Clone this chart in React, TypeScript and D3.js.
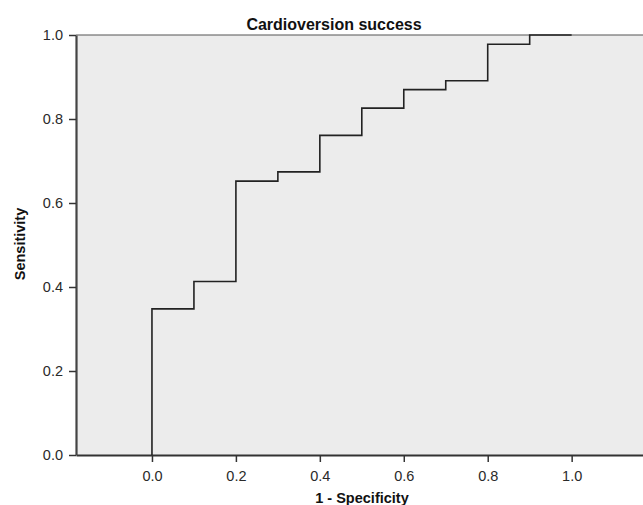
import React, { useEffect, useRef } from "react";
import * as d3 from "d3";

// ROC curve corners (1 - specificity, sensitivity)
const fpr = [0, 0, 0.1, 0.2, 0.3, 0.4, 0.5, 0.6, 0.7, 0.8, 0.9, 1.0];
const tpr = [0, 0.348, 0.413, 0.652, 0.674, 0.761, 0.826, 0.87, 0.891, 0.978, 1.0, 1.0];
const xTicks = [0, 0.2, 0.4, 0.6, 0.8, 1.0];
const yTicks = [0, 0.2, 0.4, 0.6, 0.8, 1.0];

const title = "Cardioversion success";
const xLabel = "1 - Specificity";
const yLabel = "Sensitivity";

const App = () => {
  const svgRef = useRef<SVGSVGElement>(null);

  const config = {
    width: 643,
    height: 505,
    margin: { top: 35, right: 0, bottom: 50, left: 76 },
  };

  useEffect(() => {
    const svg = d3.select(svgRef.current);
    svg.selectAll("*").remove();

    const { width, height, margin } = config;
    const font = "'Liberation Sans', Arial, sans-serif";

    const x = d3.scaleLinear().domain([-0.181, 1.17]).range([margin.left, width]);
    const y = d3.scaleLinear().domain([0, 1]).range([height - margin.bottom, margin.top]);

    // plot background
    svg
      .append("rect")
      .attr("x", margin.left)
      .attr("y", margin.top)
      .attr("width", width - margin.left)
      .attr("height", y(0) - y(1))
      .attr("fill", "#ececec");

    // top frame line
    svg
      .append("line")
      .attr("x1", margin.left)
      .attr("x2", width)
      .attr("y1", y(1))
      .attr("y2", y(1))
      .attr("stroke", "#555")
      .attr("stroke-width", 1.2);

    // x axis
    const xAxis = svg
      .append("g")
      .attr("transform", "translate(0," + y(0) + ")")
      .call(
        d3
          .axisBottom(x)
          .tickValues(xTicks)
          .tickSize(7)
          .tickSizeOuter(0)
          .tickFormat(d3.format(".1f"))
      );
    xAxis.select(".domain").attr("stroke", "#333").attr("stroke-width", 2);
    xAxis.selectAll(".tick line").attr("stroke", "#333").attr("stroke-width", 1.5);
    xAxis
      .selectAll(".tick text")
      .attr("font-family", font)
      .attr("font-size", 14.5)
      .attr("fill", "#2a2a2a")
      .attr("dy", "0.71em")
      .attr("y", 16);

    // y axis
    const yAxis = svg
      .append("g")
      .attr("transform", "translate(" + margin.left + ",0)")
      .call(
        d3
          .axisLeft(y)
          .tickValues(yTicks)
          .tickSize(7)
          .tickSizeOuter(0)
          .tickFormat(d3.format(".1f"))
      );
    yAxis.select(".domain").attr("stroke", "#444").attr("stroke-width", 2.2);
    yAxis.selectAll(".tick line").attr("stroke", "#333").attr("stroke-width", 1.5);
    yAxis
      .selectAll(".tick text")
      .attr("font-family", font)
      .attr("font-size", 14.5)
      .attr("fill", "#2a2a2a")
      .attr("x", -13);

    // ROC step line
    const points: [number, number][] = fpr.map((d, i) => [d, tpr[i]]);
    const line = d3
      .line<[number, number]>()
      .x((d) => x(d[0]))
      .y((d) => y(d[1]))
      .curve(d3.curveStepAfter);

    svg
      .append("path")
      .datum(points)
      .attr("d", line)
      .attr("fill", "none")
      .attr("stroke", "#222")
      .attr("stroke-width", 1.6);

    // titles
    svg
      .append("text")
      .attr("x", 334)
      .attr("y", 30)
      .attr("text-anchor", "middle")
      .attr("font-family", font)
      .attr("font-weight", "bold")
      .attr("font-size", 16)
      .attr("fill", "#111")
      .text(title);

    svg
      .append("text")
      .attr("x", 362)
      .attr("y", 503)
      .attr("text-anchor", "middle")
      .attr("font-family", font)
      .attr("font-weight", "bold")
      .attr("font-size", 14.5)
      .attr("fill", "#111")
      .text(xLabel);

    svg
      .append("text")
      .attr("transform", "translate(25,244) rotate(-90)")
      .attr("text-anchor", "middle")
      .attr("font-family", font)
      .attr("font-weight", "bold")
      .attr("font-size", 14.5)
      .attr("fill", "#111")
      .text(yLabel);
  }, []);

  return (
    <svg
      ref={svgRef}
      width={config.width}
      height={config.height}
      style={{ position: "absolute", left: 0, top: 0, background: "#fff" }}
    ></svg>
  );
};

export default App;
